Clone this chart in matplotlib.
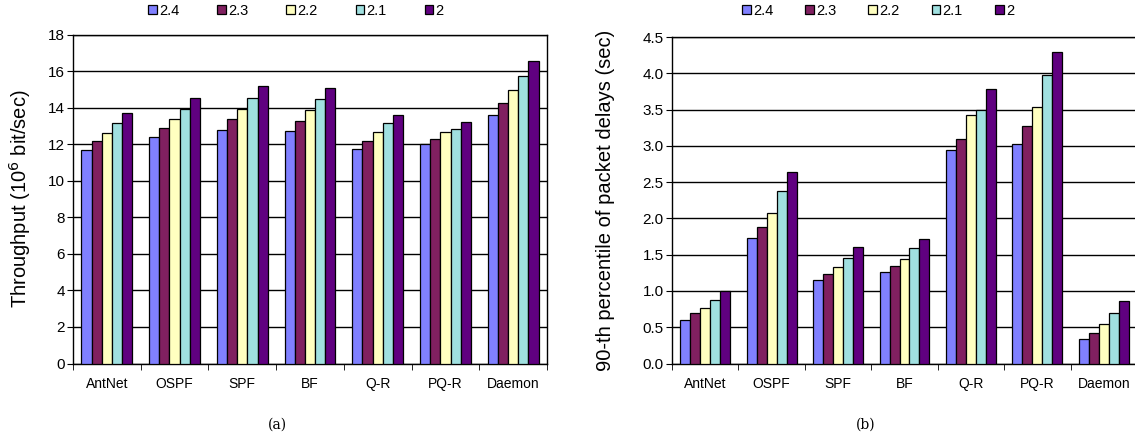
import matplotlib
matplotlib.use("Agg")
import matplotlib.pyplot as plt
import numpy as np

plt.rcParams['font.family'] = ['Liberation Sans', 'DejaVu Sans']

routers = ["AntNet", "OSPF", "SPF", "BF", "Q-R", "PQ-R", "Daemon"]
series = ["2.4", "2.3", "2.2", "2.1", "2"]
colors = ['#8080ff', '#802060', '#ffffc0', '#a0e0e0', '#600080']

# throughput (10^6 bit/sec), one list per series
thr_24 = [11.7, 12.4, 12.8, 12.7, 11.75, 12.0, 13.6]
thr_23 = [12.15, 12.9, 13.35, 13.25, 12.2, 12.3, 14.25]
thr_22 = [12.6, 13.4, 13.9, 13.85, 12.65, 12.65, 14.95]
thr_21 = [13.15, 13.95, 14.5, 14.45, 13.15, 12.85, 15.75]
thr_2 = [13.7, 14.55, 15.2, 15.1, 13.6, 13.2, 16.55]

# 90-th percentile of packet delays (sec)
del_24 = [0.6, 1.73, 1.15, 1.26, 2.94, 3.03, 0.34]
del_23 = [0.69, 1.88, 1.23, 1.35, 3.09, 3.28, 0.42]
del_22 = [0.77, 2.08, 1.33, 1.44, 3.42, 3.54, 0.55]
del_21 = [0.87, 2.38, 1.46, 1.59, 3.49, 3.97, 0.69]
del_2 = [1.0, 2.64, 1.6, 1.71, 3.79, 4.30, 0.86]

W, H = 1135, 440
fig = plt.figure(figsize=(W / 100, H / 100), dpi=100)
ax1 = fig.add_axes([73 / W, 76.5 / H, 474 / W, 329 / H])
ax2 = fig.add_axes([672 / W, 76.5 / H, 465 / W, 326.5 / H])


def draw(ax, data, ymax, ystep, ylabel, fmt, leg_x, colsp):
    x = np.arange(len(routers))
    bw = 0.15
    for i, (vals, lab, c) in enumerate(zip(data, series, colors)):
        ax.bar(x + (i - 2) * bw, vals, bw, color=c, edgecolor='black',
               linewidth=0.9, label=lab, zorder=3)
    ax.set_xlim(-0.5, len(routers) - 0.5)
    ax.set_ylim(0, ymax)
    ticks = np.arange(0, ymax + ystep / 2, ystep)
    ax.set_yticks(ticks)
    ax.set_yticklabels([fmt.format(t) for t in ticks], fontsize=11)
    ax.yaxis.grid(True, color='black', lw=1, zorder=0)
    ax.set_xticks(x)
    ax.set_xticklabels(routers, fontsize=10)
    ax.set_xticks(np.arange(-0.5, len(routers), 1), minor=True)
    ax.tick_params(axis='x', which='major', length=0, pad=10)
    ax.tick_params(axis='x', which='minor', length=4, direction='out')
    ax.tick_params(axis='y', length=4, direction='out', pad=2)
    ax.set_ylabel(ylabel, fontsize=14.5)
    for s in ax.spines.values():
        s.set_linewidth(1)
    ax.legend(loc='center', bbox_to_anchor=(leg_x / W, 1 - 11 / H),
              bbox_transform=fig.transFigure, ncol=5, frameon=False,
              fontsize=10.5, handlelength=0.6, handleheight=0.6,
              handletextpad=0.15, columnspacing=colsp)


draw(ax1, [thr_24, thr_23, thr_22, thr_21, thr_2], 18, 2,
     "Throughput (10$^6$ bit/sec)", "{:.0f}", 296, 2.6)
draw(ax2, [del_24, del_23, del_22, del_21, del_2], 4.5, 0.5,
     "90-th percentile of packet delays (sec)", "{:.1f}", 878, 2.2)
ax1.yaxis.set_label_coords(-0.085, 0.5)
ax2.yaxis.set_label_coords(-0.122, 0.5)

fig.text(277 / W, 1 - 425 / H, "(a)", ha='center', va='center',
         family='DejaVu Serif', fontsize=10)
fig.text(866 / W, 1 - 425 / H, "(b)", ha='center', va='center',
         family='DejaVu Serif', fontsize=10)

fig.savefig("out.png", dpi=100)
